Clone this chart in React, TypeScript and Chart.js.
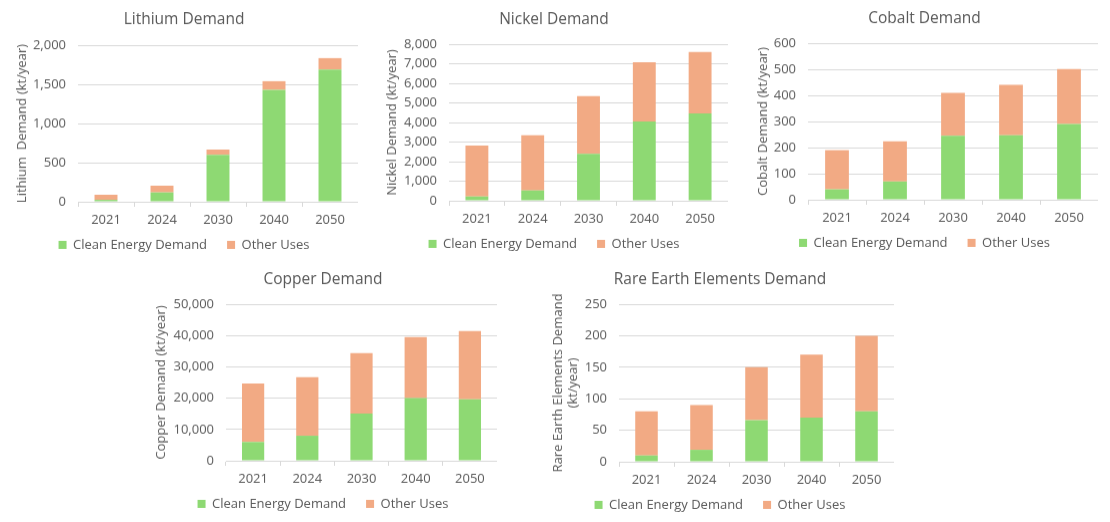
import React, { useEffect, useRef } from "react";
import { Chart, registerables } from "chart.js";

Chart.register(...registerables);

const years = ["2021", "2024", "2030", "2040", "2050"];
const seriesNames = ["Clean Energy Demand", "Other Uses"];

const lithiumClean = [25, 120, 600, 1430, 1690];
const lithiumOther = [65, 85, 67, 110, 145];
const nickelClean = [220, 530, 2400, 4050, 4460];
const nickelOther = [2600, 2820, 2950, 3030, 3140];
const cobaltClean = [40, 70, 245, 247, 290];
const cobaltOther = [150, 154, 165, 193, 211];
const copperClean = [6000, 8000, 15100, 20000, 19600];
const copperOther = [18700, 18700, 19300, 19500, 21800];
const reeClean = [10, 19, 66, 70, 80];
const reeOther = [70, 71, 84, 100, 120];

const GREEN = "#8ED973";
const ORANGE = "#F2AA84";
const TEXT = "#595959";
const GRID = "#D9D9D9";
const FONT = "'Open Sans', sans-serif";

type Spec = {
  title: string;
  yTitle: string | string[];
  clean: number[];
  other: number[];
  max: number;
  step: number;
  left: number;
  right: number;
  top: number;
  plotTop: number;
  plotH: number;
  titlePadTop: number;
  axisW: number;
};

const specs: Spec[] = [
  { title: "Lithium Demand", yTitle: "Lithium  Demand (kt/year)", clean: lithiumClean, other: lithiumOther, max: 2000, step: 500, left: 10, right: 358, top: 0, plotTop: 45, plotH: 156, titlePadTop: 10, axisW: 68 },
  { title: "Nickel Demand", yTitle: "Nickel Demand (kt/year)", clean: nickelClean, other: nickelOther, max: 8000, step: 1000, left: 380, right: 728, top: 0, plotTop: 44, plotH: 156, titlePadTop: 10, axisW: 69 },
  { title: "Cobalt Demand", yTitle: "Cobalt Demand (kt/year)", clean: cobaltClean, other: cobaltOther, max: 600, step: 100, left: 751, right: 1098, top: 0, plotTop: 43, plotH: 156, titlePadTop: 9, axisW: 57 },
  { title: "Copper Demand", yTitle: "Copper Demand (kt/year)", clean: copperClean, other: copperOther, max: 50000, step: 10000, left: 149, right: 497, top: 260, plotTop: 304, plotH: 156, titlePadTop: 10, axisW: 77 },
  { title: "Rare Earth Elements Demand", yTitle: ["Rare Earth Elements Demand", "(kt/year)"], clean: reeClean, other: reeOther, max: 250, step: 50, left: 546, right: 894, top: 260, plotTop: 304, plotH: 157, titlePadTop: 10, axisW: 73 },
];

const LEGEND_PAD = 20;
const LEGEND_SHIFT = 14;

const legendShift = {
  id: "legendShift",
  afterLayout(chart: any) {
    const l = chart.legend;
    if (l) {
      l.top -= LEGEND_SHIFT;
      l.bottom -= LEGEND_SHIFT;
    }
  },
};

function StackedChart({ spec }: { spec: Spec }) {
  const ref = useRef<HTMLCanvasElement | null>(null);
  const titleH = 15.5 * 1.2;
  const titlePadBottom = spec.plotTop - spec.top - spec.titlePadTop - titleH;
  const bottomH = 73.6;
  const height = spec.plotTop - spec.top + spec.plotH + bottomH;
  const width = spec.right - spec.left;

  useEffect(() => {
    if (!ref.current) return;
    const chart = new Chart(ref.current, {
      type: "bar",
      data: {
        labels: years,
        datasets: [
          { label: seriesNames[0], data: spec.clean, backgroundColor: GREEN, borderWidth: 0 },
          { label: seriesNames[1], data: spec.other, backgroundColor: ORANGE, borderWidth: 0 },
        ],
      },
      plugins: [legendShift],
      options: {
        animation: false,
        responsive: true,
        maintainAspectRatio: false,
        locale: "en-US",
        layout: { padding: 0 },
        datasets: { bar: { barPercentage: 0.41, categoryPercentage: 1 } },
        plugins: {
          title: {
            display: true,
            text: spec.title,
            color: TEXT,
            font: { family: FONT, size: 15.5, weight: "normal" },
            padding: { top: spec.titlePadTop, bottom: titlePadBottom },
          },
          legend: {
            position: "bottom",
            labels: {
              color: TEXT,
              font: { family: FONT, size: 13 },
              boxWidth: 8,
              boxHeight: 8,
              padding: LEGEND_PAD,
            },
          },
          tooltip: { enabled: false },
        },
        scales: {
          x: {
            stacked: true,
            grid: { display: true, drawOnChartArea: false, drawTicks: true, tickLength: 5, color: GRID, offset: true },
            border: { display: true, color: GRID },
            ticks: { color: TEXT, font: { family: FONT, size: 13 }, padding: 5, maxRotation: 0 },
          },
          y: {
            stacked: true,
            min: 0,
            max: spec.max,
            grid: { color: GRID, drawTicks: false },
            border: { display: false },
            ticks: { stepSize: spec.step, color: TEXT, font: { family: FONT, size: 13 }, padding: 12 },
            title: { display: true, text: spec.yTitle, color: TEXT, font: { family: FONT, size: 13 }, padding: 4 },
            afterFit: (scale: any) => {
              scale.width = spec.axisW;
            },
          },
        },
      },
    });
    return () => chart.destroy();
  }, [spec]);

  return (
    <div style={{ position: "absolute", left: spec.left, top: spec.top, width, height }}>
      <canvas ref={ref} />
    </div>
  );
}

export default function App() {
  return (
    <div style={{ position: "absolute", left: 0, top: 0, width: 1110, height: 522, background: "#ffffff", overflow: "hidden" }}>
      {specs.map((s) => (
        <StackedChart key={s.title} spec={s} />
      ))}
    </div>
  );
}
